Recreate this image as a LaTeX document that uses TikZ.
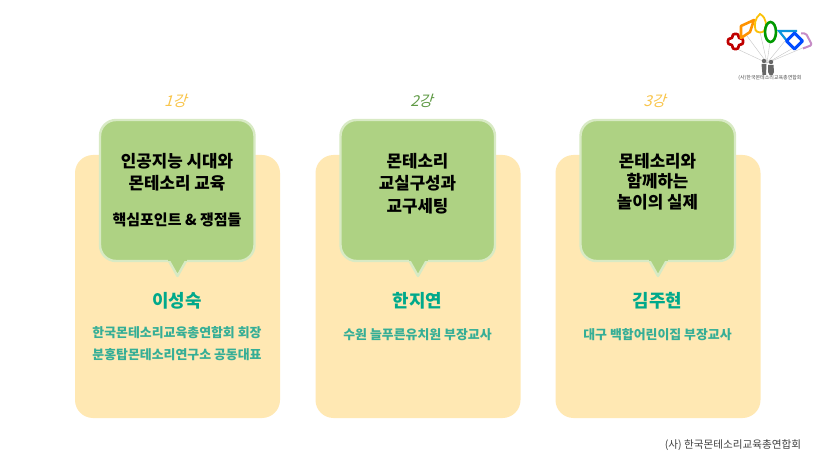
\documentclass[tikz,border=0pt]{standalone}
\usepackage{fontspec}
\newfontfamily\kor{Noto Sans CJK KR}
\definecolor{cardfill}{HTML}{FFE8B3}
\definecolor{bubblefill}{HTML}{AED283}
\definecolor{bubbleline}{HTML}{D8EAC4}
\definecolor{nameteal}{HTML}{00A98B}
\definecolor{infoteal}{HTML}{35AE96}
\definecolor{lecturegold}{HTML}{F9C54A}
\definecolor{lecturegreen}{HTML}{5F9A45}
\tikzset{
  card/.style={fill=cardfill,rounded corners=18pt},
  bubble/.style={fill=bubblefill,draw=bubbleline,line width=2.4pt,rounded corners=16pt},
  title/.style={font=\kor\bfseries\fontsize{16.8}{22.3}\selectfont,align=center,text=black},
  subtitle/.style={font=\kor\bfseries\fontsize{15}{18}\selectfont,text=black},
  person/.style={font=\kor\bfseries\fontsize{17.9}{20}\selectfont,text=nameteal},
  info/.style={font=\kor\bfseries\fontsize{12.9}{22}\selectfont,align=center,text=infoteal},
  lecture/.style={font=\kor\fontsize{15}{17}\selectfont,text=lecturegold,xslant=0.3},
  logoline/.style={draw=gray!45,line width=0.4pt}
}
\begin{document}
\begin{tikzpicture}[x=1pt,y=-1pt]
  \useasboundingbox (0,0) rectangle (835,470);
  \fill[white] (0,0) rectangle (835,470);

  % cards with speech bubbles
  \foreach \name/\xa in {a/75,b/315.5,c/555.5}{
    \fill[card] (\xa,155) rectangle ++(205,263);
    \draw[bubble] ({\xa+25},120) -- ({\xa+179.5},120) -- ({\xa+179.5},261)
      -- ({\xa+25},261) -- cycle;
    \fill[bubblefill,draw=bubbleline,line width=2.4pt,line join=round]
      ({\xa+94},261) -- ({\xa+102.5},276) -- ({\xa+111},261);
    \fill[bubblefill] ({\xa+93},258) rectangle ({\xa+112},261.4);
  }

  % lecture numbers
  \node[lecture] (nA) at (177,101) {1강};
  \node[lecture,text=lecturegreen] (nB) at (423,101) {2강};
  \node[lecture] (nC) at (656,101) {3강};

  % titles
  \node[title] (tA) at (177,172) {인공지능 시대와\\몬테소리 교육};
  \node[subtitle] (sA) at (177,219.5) {핵심포인트 \& 쟁점들};
  \node[title] (tB) at (417.5,183.5) {몬테소리\\교실구성과\\교구세팅};
  \node[title,font=\kor\bfseries\fontsize{16.8}{20.4}\selectfont] (tC) at (657.5,181.5) {몬테소리와\\함께하는\\놀이의 실제};

  % names and jobs
  \node[person] (pA) at (177,300.5) {이성숙};
  \node[person] (pB) at (417.5,300.5) {한지연};
  \node[person] (pC) at (657.5,300.5) {김주현};
  \node[info] (iA) at (177,344) {한국몬테소리교육총연합회 회장\\분홍탑몬테소리연구소 공동대표};
  \node[info] (iB) at (417.5,335) {수원 늘푸른유치원 부장교사};
  \node[info] (iC) at (657.5,335) {대구 백합어린이집 부장교사};

  % footer
  \node[font=\kor\fontsize{10.6}{12}\selectfont,text=black!75] (foot) at (733,445) {(사) 한국몬테소리교육총연합회};

  % logo
  \foreach \xa/\ya in {735/48,747/36,760/32,770/42,785/41,795/47,805/47}
    \draw[logoline] (\xa,\ya) -- (767,63);
  \fill[gray!80!black] (764,61) circle (2.2) (771,62) circle (2.2);
  \fill[gray!80!black] (761.5,64) -- (766.5,64) -- (766,75) -- (762.5,75) -- cycle;
  \fill[gray!80!black] (768,65) -- (773.5,65) -- (774,72) -- (772.5,75) -- (769.5,75) -- (768,72) -- cycle;
  \draw[line width=2.6pt,red!75!black,rounded corners=2pt]
    (732.5,34) -- (738.5,34) -- (738.5,38.5) -- (743,38.5) -- (743,44.5) -- (738.5,44.5)
    -- (738.5,49) -- (732.5,49) -- (732.5,44.5) -- (728,44.5) -- (728,38.5) -- (732.5,38.5) -- cycle;
  \draw[line width=2.6pt,orange!85!yellow,line join=round] (741,26) -- (754,20) -- (750,32) -- (741,38) -- cycle;
  \draw[line width=1.8pt,yellow!55!orange] (760,14) .. controls (767,18) and (767,26) .. (764,31)
    .. controls (762,33) and (757,33) .. (755.5,30) .. controls (754,25) and (755,18) .. (760,14) -- cycle;
  \draw[line width=2.6pt,green!60!black] (770.5,32) ellipse (5.5 and 10);
  \draw[line width=2.2pt,cyan!80!blue] (787,41) -- (779,31) -- (797,31);
  \draw[line width=3pt,blue!70!cyan,line join=round] (794.5,33) -- (802.5,41) -- (794.5,49) -- (786.5,41) -- cycle;
  \draw[line width=2pt,violet!45!white,line join=round,rounded corners=1.5pt] (801,33.5) -- (806,33.5) -- (812,45) -- (803,48.5);
  \node[font=\kor\fontsize{5}{6}\selectfont,text=black!70] (logotxt) at (770,77.5) {(사)한국몬테소리교육총연합회};
\end{tikzpicture}
\end{document}
